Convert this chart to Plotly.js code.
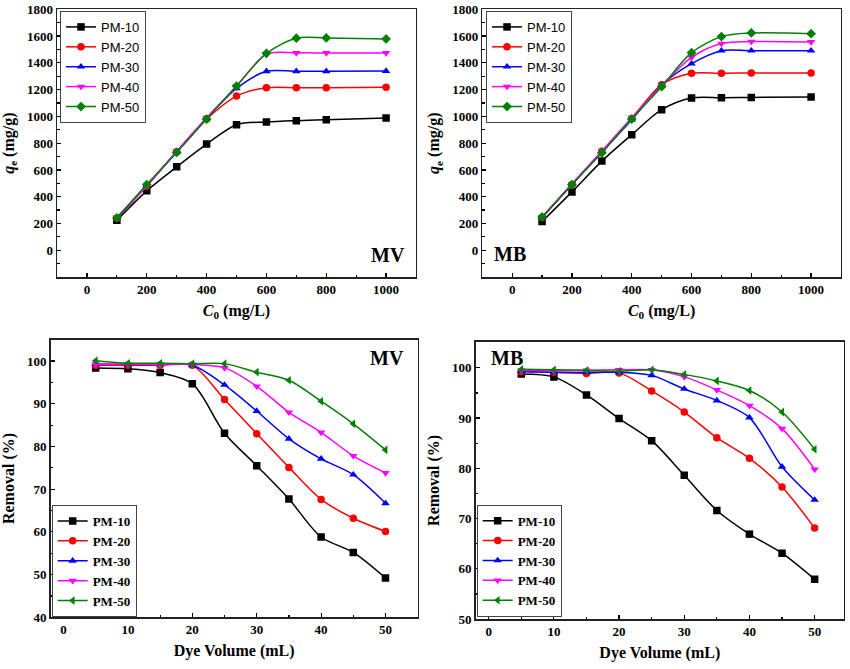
<!DOCTYPE html>
<html><head><meta charset="utf-8">
<script src="https://cdn.plot.ly/plotly-3.0.1.min.js"></script>
<style>html,body{margin:0;padding:0;background:#fff}#c{width:850px;height:669px}</style>
</head><body><div id="c"></div>
<script>
const names = ['PM-10','PM-20','PM-30','PM-40','PM-50'];
const colors = ['#000000','#ff0000','#0000ff','#ff00ff','#008000'];
const symbolsTop = ['square','circle','triangle-up','triangle-down','diamond'];
const symbolsBottom = ['square','circle','triangle-up','triangle-down','triangle-left'];

const c0 = [100,200,300,400,500,600,700,800,1000];
const qeMV = [
  [224,444,623,793,938,958,968,975,988],
  [240,480,735,980,1152,1214,1214,1214,1217],
  [240,485,735,985,1209,1337,1337,1337,1339],
  [245,480,740,990,1225,1465,1474,1474,1474],
  [242,491,731,980,1227,1471,1584,1586,1579]
];
const qeMB = [
  [214,436,666,863,1050,1137,1140,1142,1145],
  [245,490,740,985,1237,1322,1322,1324,1324],
  [245,495,735,975,1235,1394,1491,1491,1491],
  [248,495,740,990,1230,1440,1544,1559,1556],
  [249,491,728,980,1222,1476,1596,1623,1618]
];
const vol = [5,10,15,20,25,30,35,40,45,50];
const remMV = [
  [98.4,98.2,97.3,94.7,83.1,75.5,67.7,58.8,55.2,49.2],
  [99.0,99.0,99.0,99.0,91.0,83.0,75.1,67.6,63.2,60.1],
  [99.3,99.2,99.2,99.0,94.4,88.3,81.8,77.1,73.4,66.7],
  [99.2,99.3,99.2,99.2,98.4,94.1,88.0,83.3,77.8,73.8],
  [100.1,99.5,99.5,99.4,99.4,97.4,95.5,90.6,85.3,79.2]
];
const remMB = [
  [98.8,98.2,94.6,89.9,85.5,78.6,71.6,66.9,63.1,57.9],
  [99.2,99.1,98.9,99.0,95.4,91.2,86.1,82.0,76.3,68.1],
  [99.3,99.1,99.1,99.1,98.5,95.8,93.5,90.1,80.3,73.7],
  [99.5,99.4,99.5,99.6,99.6,98.2,95.6,92.5,87.9,79.8],
  [99.7,99.6,99.5,99.3,99.6,98.7,97.4,95.5,91.2,83.8]
];

const serif = 'Liberation Serif, Times New Roman, serif';
const traces = [];
function add(xs, ys, xa, ya, leg, syms) {
  ys.forEach((y, i) => {
    traces.push({
      x: xs, y: y, xaxis: xa, yaxis: ya, legend: leg,
      type: 'scatter', mode: 'lines+markers', name: names[i],
      line: {color: colors[i], width: 1.5, shape: 'spline', smoothing: 0.85},
      marker: {color: colors[i], symbol: syms[i], size: 7.5}
    });
  });
}
add(c0, qeMV, 'x', 'y', 'legend', symbolsTop);
add(c0, qeMB, 'x2', 'y2', 'legend2', symbolsTop);
add(vol, remMV, 'x3', 'y3', 'legend3', symbolsBottom);
add(vol, remMB, 'x4', 'y4', 'legend4', symbolsBottom);

const tickFont = {family: serif, size: 13, color: '#000', weight: 'bold'};
const titleFont = {family: serif, size: 16, color: '#000', weight: 'bold'};
function ax(domain, range, dtick, minorDtick, anchor, title, extra) {
  return Object.assign({
    domain: domain, range: range, dtick: dtick, tick0: 0, anchor: anchor,
    showgrid: false, zeroline: false, showline: true, mirror: true,
    linecolor: '#222', linewidth: 1.5, ticks: 'inside', ticklen: 4, tickwidth: 1.2,
    tickcolor: '#000', tickfont: tickFont,
    minor: {ticks: 'inside', ticklen: 2.5, dtick: minorDtick, tickcolor: '#000', showgrid: false},
    title: {text: title, font: titleFont, standoff: 8}
  }, extra || {});
}
const qTicks = [0,200,400,600,800,1000,1200,1400,1600,1800];
const legTop = {font: {family: 'Liberation Sans, Arial, sans-serif', size: 13, color: '#000'},
  bordercolor: '#444', borderwidth: 1, bgcolor: 'rgba(255,255,255,1)', xanchor: 'left', yanchor: 'top',
  tracegroupgap: 0, itemwidth: 30};
const legBot = {font: {family: serif, size: 13, color: '#000', weight: 'bold'},
  bordercolor: '#444', borderwidth: 1, bgcolor: 'rgba(255,255,255,1)', xanchor: 'left', yanchor: 'bottom',
  tracegroupgap: 0, itemwidth: 30};
const annFont = {family: serif, size: 20, color: '#000', weight: 'bold'};

const layout = {
  width: 850, height: 669, margin: {l: 0, r: 0, t: 0, b: 0},
  paper_bgcolor: '#fff', plot_bgcolor: '#fff', showlegend: true,
  xaxis: ax([0.0671, 0.4894], [-100, 1100], 200, 100, 'y', '<i>C</i><sub>0</sub> (mg/L)'),
  yaxis: ax([0.5859, 0.9861], [-200, 1800], 200, 100, 'x', '<i>q</i><sub>e</sub> (mg/g)', {tickmode: 'array', tickvals: qTicks}),
  xaxis2: ax([0.5674, 0.9894], [-100, 1100], 200, 100, 'y2', '<i>C</i><sub>0</sub> (mg/L)'),
  yaxis2: ax([0.5859, 0.9861], [-200, 1800], 200, 100, 'x2', '<i>q</i><sub>e</sub> (mg/g)', {tickmode: 'array', tickvals: qTicks}),
  xaxis3: ax([0.0596, 0.4914], [-2, 55], 10, 5, 'y3', 'Dye Volume (mL)'),
  yaxis3: ax([0.0773, 0.4922], [40, 105], 10, 5, 'x3', 'Removal (%)', {tickvals: [40,50,60,70,80,90,100], tickmode: 'array'}),
  xaxis4: ax([0.5596, 0.9929], [-2, 54.5], 10, 5, 'y4', 'Dye Volume (mL)'),
  yaxis4: ax([0.0747, 0.4892], [50, 105.2], 10, 5, 'x4', 'Removal (%)', {tickvals: [50,60,70,80,90,100], tickmode: 'array'}),
  legend: Object.assign({x: 0.0706, y: 0.9836}, legTop),
  legend2: Object.assign({x: 0.5718, y: 0.9836}, legTop),
  legend3: Object.assign({x: 0.0608, y: 0.0777}, legBot),
  legend4: Object.assign({x: 0.5608, y: 0.0782}, legBot),
  annotations: [
    {text: 'MV', x: 388/850, y: 1 - 255/669, xref: 'paper', yref: 'paper', showarrow: false, font: annFont},
    {text: 'MB', x: 510/850, y: 1 - 254/669, xref: 'paper', yref: 'paper', showarrow: false, font: annFont},
    {text: 'MV', x: 387/850, y: 1 - 358/669, xref: 'paper', yref: 'paper', showarrow: false, font: annFont},
    {text: 'MB', x: 507/850, y: 1 - 358/669, xref: 'paper', yref: 'paper', showarrow: false, font: annFont}
  ]
};
Plotly.newPlot('c', traces, layout, {displayModeBar: false, staticPlot: true});
</script></body></html>
